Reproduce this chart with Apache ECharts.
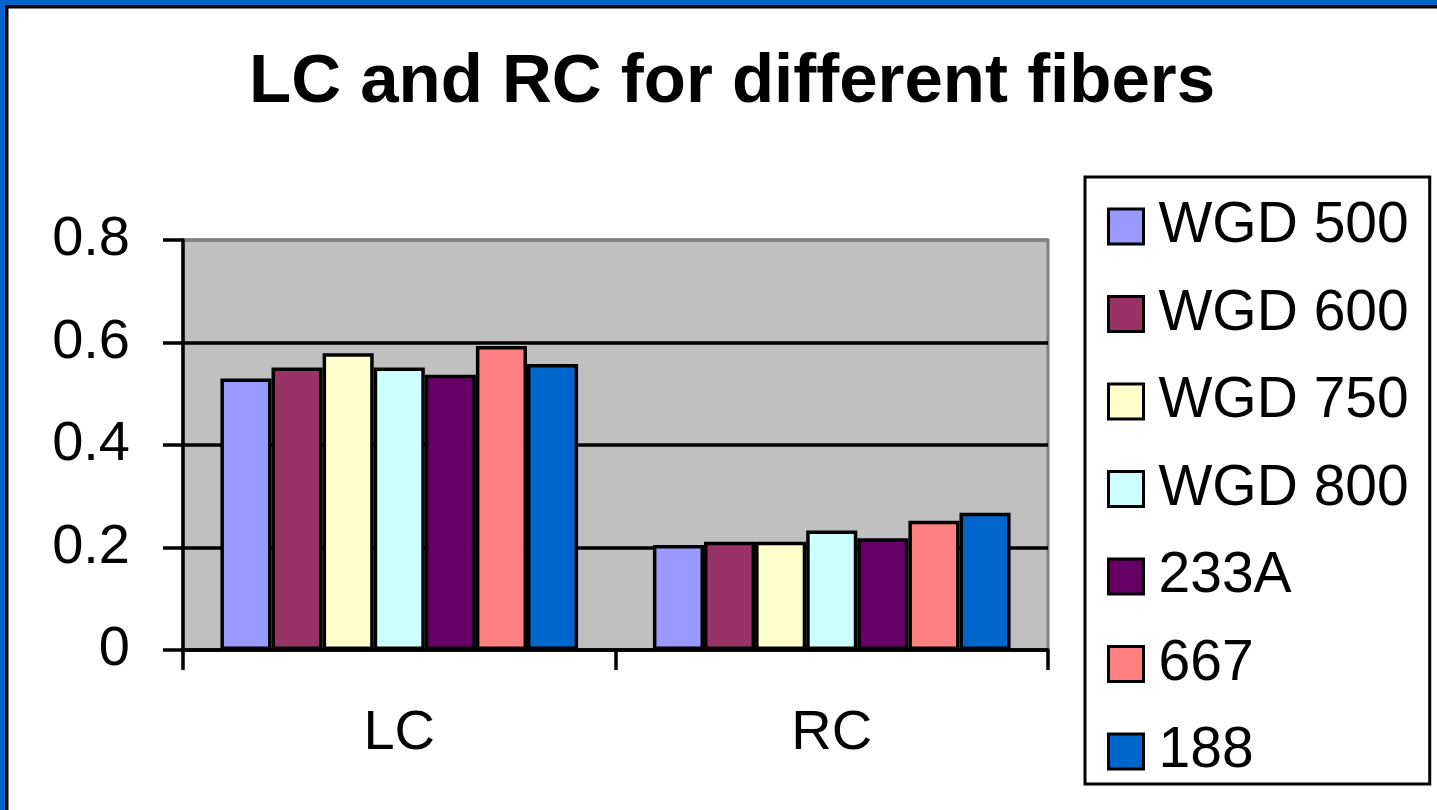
<!DOCTYPE html>
<html>
<head>
<meta charset="utf-8">
<script src="https://cdn.jsdelivr.net/npm/echarts@6/dist/echarts.min.js"></script>
<style>
  html, body { margin: 0; padding: 0; background: #ffffff; }
  #chart { width: 1437px; height: 810px; }
</style>
</head>
<body>
<div id="chart"></div>
<script>
// Measurement groups on the x axis
const categories = ['LC', 'RC'];

// Fibre types (legend order)
const fibers = ['WGD 500', 'WGD 600', 'WGD 750', 'WGD 800', '233A', '667', '188'];

// Values per fibre: [LC, RC]
const wgd500 = [0.530, 0.205];
const wgd600 = [0.551, 0.211];
const wgd750 = [0.579, 0.211];
const wgd800 = [0.551, 0.233];
const f233A  = [0.537, 0.218];
const f667   = [0.593, 0.252];
const f188   = [0.558, 0.268];

const fiberColors = ['#9999FF', '#993366', '#FFFFCC', '#CCFFFF', '#660066', '#FF8080', '#0066CC'];

const yTicks = [0, 0.2, 0.4, 0.6, 0.8];

const seriesValues = [wgd500, wgd600, wgd750, wgd800, f233A, f667, f188];

const FONT = '"Liberation Sans", Arial, sans-serif';
const LINE_W = 3.5;

const chart = echarts.init(document.getElementById('chart'), null, { renderer: 'canvas' });

chart.setOption({
  animation: false,
  backgroundColor: '#ffffff',
  color: fiberColors,
  title: {
    text: 'LC and RC for different fibers',
    left: 244,
    top: 43,
    textStyle: { fontFamily: FONT, fontSize: 69, fontWeight: 'bold', color: '#000' }
  },
  graphic: [
    // window frame along the top and left edges
    { type: 'rect', shape: { x: 0, y: 0, width: 1437, height: 5 }, style: { fill: '#0066CC' }, z: 100 },
    { type: 'rect', shape: { x: 0, y: 0, width: 5, height: 810 }, style: { fill: '#0066CC' }, z: 100 },
    { type: 'rect', shape: { x: 5, y: 5, width: 1432, height: 3.5 }, style: { fill: '#000' }, z: 100 },
    { type: 'rect', shape: { x: 5, y: 5, width: 3.5, height: 805 }, style: { fill: '#000' }, z: 100 }
  ],
  legend: {
    orient: 'vertical',
    left: 1085,
    top: 177,
    data: fibers,
    itemWidth: 35,
    itemHeight: 35,
    itemGap: 30.5,
    icon: 'rect',
    padding: [21, 21, 4, 22],
    borderColor: '#000',
    borderWidth: 3,
    backgroundColor: '#fff',
    itemStyle: { borderColor: '#000', borderWidth: 3 },
    textStyle: { fontFamily: FONT, fontSize: 57, color: '#000', lineHeight: 56, padding: [0, 0, 0, 10] }
  },
  grid: {
    left: 183,
    right: 389,
    top: 240,
    bottom: 160,
    show: true,
    backgroundColor: '#C0C0C0',
    borderColor: '#808080',
    borderWidth: 3
  },
  xAxis: {
    type: 'category',
    data: categories,
    boundaryGap: true,
    axisLine: { lineStyle: { color: '#000', width: LINE_W } },
    axisTick: { show: true, length: 20, lineStyle: { color: '#000', width: LINE_W } },
    axisLabel: { fontFamily: FONT, fontSize: 56, color: '#000', margin: 56 },
    splitLine: { show: false }
  },
  yAxis: {
    type: 'value',
    min: yTicks[0],
    max: yTicks[yTicks.length - 1],
    interval: 0.2,
    axisLine: { show: true, lineStyle: { color: '#000', width: LINE_W } },
    axisTick: { show: true, length: 20, lineStyle: { color: '#000', width: LINE_W } },
    axisLabel: {
      fontFamily: FONT, fontSize: 56, color: '#000', margin: 53,
      formatter: v => (v === 0 ? '0' : String(Math.round(v * 10) / 10))
    },
    splitLine: {
      show: true,
      lineStyle: { color: ['#000', '#000', '#000', '#000', '#808080'], width: LINE_W }
    }
  },
  series: fibers.map((name, i) => ({
    name: name,
    type: 'bar',
    data: seriesValues[i],
    barGap: '0%',
    barCategoryGap: '17.3%',
    itemStyle: { color: fiberColors[i], borderColor: '#000', borderWidth: LINE_W }
  }))
});
</script>
</body>
</html>
